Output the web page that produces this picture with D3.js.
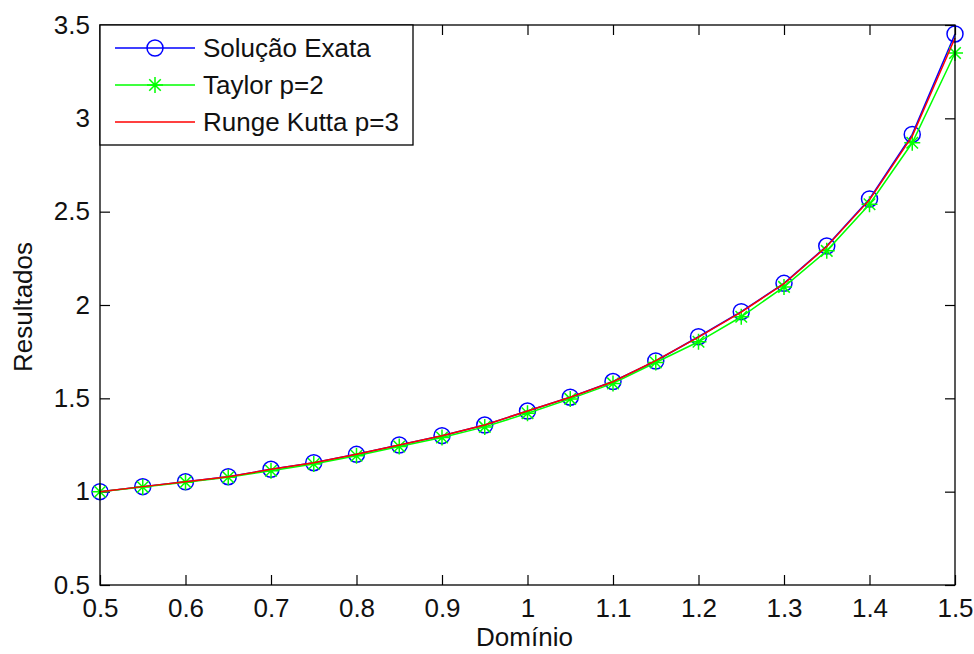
<!DOCTYPE html>
<html>
<head>
<meta charset="utf-8">
<script src="https://cdn.jsdelivr.net/npm/d3@7"></script>
<style>
  body { margin: 0; background: #fff; }
  text { font-family: "Liberation Sans", Arial, sans-serif; fill: #111; }
</style>
</head>
<body>
<div id="chart"></div>
<script>
// Data
var dominio = [0.5, 0.55, 0.6, 0.65, 0.7, 0.75, 0.8, 0.85, 0.9, 0.95, 1.0,
               1.05, 1.1, 1.15, 1.2, 1.25, 1.3, 1.35, 1.4, 1.45, 1.5];
var exata  = [1.0, 1.027, 1.053, 1.08, 1.12, 1.155, 1.2, 1.25, 1.3, 1.357, 1.432,
              1.506, 1.59, 1.7, 1.83, 1.964, 2.116, 2.316, 2.568, 2.914, 3.452];
var taylor = [1.0, 1.025, 1.051, 1.077, 1.112, 1.148, 1.192, 1.242, 1.29, 1.347, 1.42,
              1.497, 1.58, 1.692, 1.803, 1.937, 2.097, 2.29, 2.54, 2.869, 3.35];
var runge  = [1.0, 1.027, 1.053, 1.08, 1.12, 1.155, 1.2, 1.25, 1.3, 1.357, 1.432,
              1.506, 1.589, 1.702, 1.828, 1.962, 2.114, 2.313, 2.563, 2.905, 3.43];

var xTicks = [0.5, 0.6, 0.7, 0.8, 0.9, 1, 1.1, 1.2, 1.3, 1.4, 1.5];
var yTicks = [0.5, 1, 1.5, 2, 2.5, 3, 3.5];
var legendNames = ["Solução Exata", "Taylor p=2", "Runge Kutta p=3"];

var w = 974, h = 654;
var margin = {top: 25, right: 19, bottom: 69, left: 100};
var fontSize = 26;

var xScale = d3.scaleLinear().domain([0.5, 1.5]).range([margin.left, w - margin.right]);
var yScale = d3.scaleLinear().domain([0.5, 3.5]).range([h - margin.bottom, margin.top]);
var fmt = d3.format("~g");

var svg = d3.select("#chart").append("svg")
    .attr("width", w)
    .attr("height", h);

var x0 = margin.left, x1 = w - margin.right;
var y0 = h - margin.bottom, y1 = margin.top;

// axes with inward ticks (bottom/top and left/right)
var tickLen = 10;
var xAxis = d3.axisBottom(xScale).tickValues(xTicks).tickSize(-tickLen).tickPadding(14).tickFormat(fmt);
var xAxisTop = d3.axisTop(xScale).tickValues(xTicks).tickSize(-tickLen).tickFormat("");
var yAxis = d3.axisLeft(yScale).tickValues(yTicks).tickSize(-tickLen).tickPadding(10).tickFormat(fmt);
var yAxisRight = d3.axisRight(yScale).tickValues(yTicks).tickSize(-tickLen).tickFormat("");

function styleAxis(g) {
  g.select(".domain").remove();
  g.selectAll(".tick line").attr("stroke", "#000").attr("stroke-width", 1.2);
  g.selectAll(".tick text")
    .style("font-family", "'Liberation Sans', Arial, sans-serif")
    .style("font-size", fontSize + "px")
    .attr("fill", "#111");
}

svg.append("g").attr("transform", "translate(0," + y0 + ")").call(xAxis).call(styleAxis);
svg.append("g").attr("transform", "translate(0," + y1 + ")").call(xAxisTop).call(styleAxis);
svg.append("g").attr("transform", "translate(" + x0 + ",0)").call(yAxis).call(styleAxis);
svg.append("g").attr("transform", "translate(" + x1 + ",0)").call(yAxisRight).call(styleAxis);

// series
var series = [
  {name: legendNames[0], values: exata,  color: "#0000ff", marker: "circle"},
  {name: legendNames[1], values: taylor, color: "#00ff00", marker: "star"},
  {name: legendNames[2], values: runge,  color: "#ff0000", marker: "none"}
];

var line = d3.line()
    .x(function(d) { return xScale(d[0]); })
    .y(function(d) { return yScale(d[1]); });

function drawMarker(g, type, color) {
  if (type === "circle") {
    g.append("circle").attr("r", 8).attr("fill", "none")
      .attr("stroke", color).attr("stroke-width", 1.5);
  } else if (type === "star") {
    var r = 8, s = r * 0.72;
    var path = "M" + (-r) + ",0L" + r + ",0M0," + (-r) + "L0," + r +
               "M" + (-s) + "," + (-s) + "L" + s + "," + s +
               "M" + (-s) + "," + s + "L" + s + "," + (-s);
    g.append("path").attr("d", path).attr("fill", "none")
      .attr("stroke", color).attr("stroke-width", 1.5);
  }
}

series.forEach(function(s) {
  var pts = dominio.map(function(x, i) { return [x, s.values[i]]; });
  svg.append("path")
    .datum(pts)
    .attr("d", line)
    .attr("fill", "none")
    .attr("stroke", s.color)
    .attr("stroke-width", 1.5);
  if (s.marker !== "none") {
    pts.forEach(function(p) {
      var g = svg.append("g").attr("transform", "translate(" + xScale(p[0]) + "," + yScale(p[1]) + ")");
      drawMarker(g, s.marker, s.color);
    });
  }
});

// axes box
svg.append("rect")
  .attr("x", x0).attr("y", y1)
  .attr("width", x1 - x0).attr("height", y0 - y1)
  .attr("fill", "none").attr("stroke", "#000").attr("stroke-width", 1.3);

// axis labels
svg.append("text")
  .attr("x", (x0 + x1) / 2 - 3)
  .attr("y", 646)
  .attr("text-anchor", "middle")
  .style("font-size", fontSize + "px")
  .text("Domínio");

svg.append("text")
  .attr("transform", "translate(32," + ((y0 + y1) / 2 + 2) + ") rotate(-90)")
  .attr("text-anchor", "middle")
  .style("font-size", fontSize + "px")
  .text("Resultados");

// legend
var legend = svg.append("g").attr("transform", "translate(" + x0 + "," + y1 + ")");
legend.append("rect")
  .attr("width", 313).attr("height", 120)
  .attr("fill", "#fff").attr("stroke", "#000").attr("stroke-width", 1.3);

var items = legend.selectAll(".legend-item")
  .data(series)
  .enter()
  .append("g")
  .attr("class", "legend-item")
  .attr("transform", function(d, i) { return "translate(0," + (23 + i * 37) + ")"; });

items.append("line")
  .attr("x1", 15).attr("x2", 95)
  .attr("stroke", function(d) { return d.color; })
  .attr("stroke-width", 1.5);

items.each(function(d) {
  var g = d3.select(this).append("g").attr("transform", "translate(55,0)");
  drawMarker(g, d.marker, d.color);
});

items.append("text")
  .attr("x", 103)
  .attr("y", 9)
  .style("font-size", fontSize + "px")
  .text(function(d) { return d.name; });
</script>
</body>
</html>
